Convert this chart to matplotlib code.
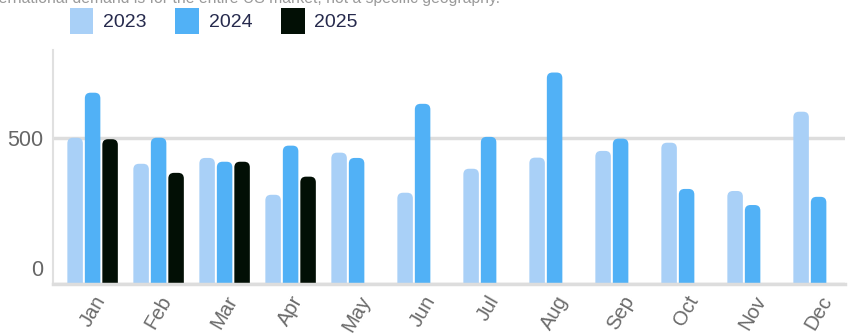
import matplotlib
matplotlib.use("Agg")
import matplotlib.pyplot as plt
import matplotlib.transforms as mtransforms
import numpy as np
from matplotlib.patches import FancyBboxPatch, Patch

months = ["Jan", "Feb", "Mar", "Apr", "May", "Jun", "Jul", "Aug", "Sep", "Oct", "Nov", "Dec"]
v2023 = [500, 411, 431, 305, 449, 312, 394, 432, 455, 483, 318, 589]
v2024 = [654, 500, 418, 473, 431, 616, 503, 723, 497, 325, 270, 298]
v2025 = [495, 380, 418, 367]
series = [("2023", v2023, "#a9d0f7"), ("2024", v2024, "#51b1f6"), ("2025", v2025, "#020f05")]
yticks = [0, 500]
note = "International demand is for the entire US market, not a specific geography."

plt.rcParams["font.family"] = ["Liberation Sans", "DejaVu Sans"]
fig = plt.figure(figsize=(8.53, 3.36), dpi=100)
ax = fig.add_axes([53/853, 52/336, 792/853, 234/336])
ax.set_xlim(-0.6, 11.4)
ax.set_ylim(0, 800)

# pixel aspect for rounding
px_x = 792 / 12.0
px_y = 234 / 800.0
aspect = px_x / px_y

width = 0.235
offsets = [-0.265, 0.0, 0.265]
for (name, vals, col), off in zip(series, offsets):
    x = np.arange(len(vals)) + off
    bars = ax.bar(x, vals, width=width, color=col, zorder=3)
    for r in bars:
        bx, bw, bh = r.get_x(), r.get_width(), r.get_height()
        r.set_visible(False)
        p = FancyBboxPatch((bx, -40), bw, bh + 40,
                           boxstyle="round,pad=0,rounding_size=0.085",
                           mutation_aspect=aspect, facecolor=col,
                           edgecolor="none", zorder=3)
        ax.add_patch(p)

ax.set_yticks(yticks)
ax.set_yticklabels([str(t) for t in yticks])
ax.set_xticks(np.arange(12))
ax.set_xticklabels(months, rotation=60, ha="center")
ax.tick_params(axis="y", length=0, colors="#666666", labelsize=15.5, pad=7)
ax.tick_params(axis="x", length=0, colors="#6a6a6a", labelsize=14.5, pad=6)
ylabels = ax.get_yticklabels()
ylabels[0].set_va("bottom")
ylabels[0].set_transform(ylabels[0].get_transform() +
                         mtransforms.ScaledTranslation(0, 3/100, fig.dpi_scale_trans))
ax.grid(axis="y", color="#dddddd", linewidth=2.5, zorder=0)
ax.grid(axis="x", visible=False)
for s in ["top", "right"]:
    ax.spines[s].set_visible(False)
ax.spines["left"].set_color("#e0e0e0")
ax.spines["left"].set_linewidth(1.5)
ax.spines["bottom"].set_color("#dddddd")
ax.spines["bottom"].set_linewidth(2.5)
ax.spines["bottom"].set_zorder(4)

handles = [Patch(facecolor=c, edgecolor="none") for _, _, c in series]
leg = fig.legend(handles, [n for n, _, _ in series], loc="upper left",
                 bbox_to_anchor=(62/853, 1 - 0/336), ncol=3, frameon=False,
                 fontsize=14, handlelength=1.2, handleheight=1.7,
                 handletextpad=0.5, columnspacing=1.5, borderaxespad=0)
for t in leg.get_texts():
    t.set_color("#262a4d")

fig.text(-19/853, 1 - 3.5/336, note, fontsize=11.3, color="#9a9a9a", va="baseline", ha="left")

fig.savefig("out.png", dpi=100)
